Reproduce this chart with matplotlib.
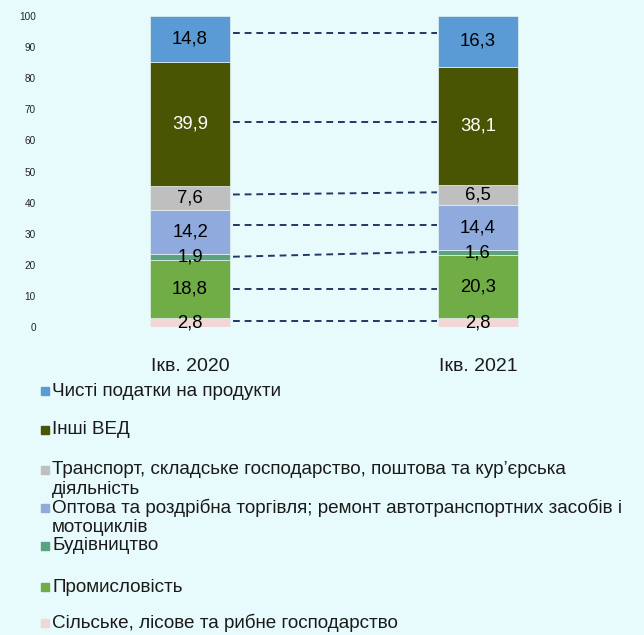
import matplotlib
matplotlib.use("Agg")
import matplotlib.pyplot as plt
from matplotlib.patches import Rectangle

plt.rcParams['font.family'] = ['Liberation Sans', 'DejaVu Sans']

# ---- data ----
periods = ["Ікв. 2020", "Ікв. 2021"]
sectors = [
    "Сільське, лісове та рибне господарство",
    "Промисловість",
    "Будівництво",
    "Оптова та роздрібна торгівля; ремонт автотранспортних засобів і\nмотоциклів",
    "Транспорт, складське господарство, поштова та кур’єрська\nдіяльність",
    "Інші ВЕД",
    "Чисті податки на продукти",
]
values_2020 = [2.8, 18.8, 1.9, 14.2, 7.6, 39.9, 14.8]
values_2021 = [2.8, 20.3, 1.6, 14.4, 6.5, 38.1, 16.3]
# levels of the dashed connector lines
line_levels_2020 = [2.0, 12.2, 22.6, 32.8, 42.6, 65.8, 94.5]
line_levels_2021 = [2.0, 12.2, 24.2, 32.8, 43.3, 65.8, 94.5]
y_ticks = [0, 10, 20, 30, 40, 50, 60, 70, 80, 90, 100]

colors = ["#F2D7D7", "#70AD47", "#5BA37E", "#8FAADC", "#BFBFBF", "#4A5504", "#5B9BD5"]
label_colors = ["black", "black", "black", "black", "black", "white", "black"]
bg = "#E8FBFC"

W, H = 644, 635
fig = plt.figure(figsize=(W / 100, H / 100), dpi=100, facecolor=bg)

def fx(px):
    return px / W

def fy(py):
    return 1 - py / H

# axes: y=0 at 327px, y=100 at 16px; x: bar centers at 190 and 478px
ax_left, ax_right = 40, 628
ax = fig.add_axes([fx(ax_left), fy(327), (ax_right - ax_left) / W, (327 - 16) / H])
ax.set_facecolor(bg)
scale = 478 - 190
ax.set_xlim((ax_left - 190) / scale, (ax_right - 190) / scale)
ax.set_ylim(0, 100)

bar_w = 80 / scale
series = [values_2020, values_2021]
for xi, vals in enumerate(series):
    bottom = 0
    for k, v in enumerate(vals):
        ax.bar(xi, v, bottom=bottom, width=bar_w, color=colors[k],
               edgecolor="#E6F2F2", linewidth=0.5, zorder=2)
        ax.text(xi, bottom + v / 2, f"{v:.1f}".replace(".", ","),
                ha="center", va="center", fontsize=13.3, color=label_colors[k], zorder=4)
        bottom += v

# dashed connector lines
x0 = 0 + bar_w / 2 + 3 / scale
x1 = 1 - bar_w / 2 - 1 / scale
for a, b in zip(line_levels_2020, line_levels_2021):
    ax.plot([x0, x1], [a, b], color="#203864", lw=1.4,
            linestyle=(0, (3.5, 2.5)), zorder=3)

for s in ax.spines.values():
    s.set_visible(False)
ax.set_yticks(y_ticks)
ax.set_yticklabels([str(t) for t in y_ticks], fontsize=7.2, color="#222222")
ax.tick_params(axis="y", length=0, pad=3)
ax.set_xticks([0, 1])
ax.set_xticklabels(periods, fontsize=14, color="#1a1a1a")
ax.tick_params(axis="x", length=0, pad=22)

# legend (manual, top to bottom)
legend_order = list(range(len(sectors)))[::-1]
item_y = [391, 430, 470, 508, 546, 587, 623]
for yy, k in zip(item_y, legend_order):
    fig.patches.append(Rectangle((fx(41), fy(yy + 4)), 8 / W, 8 / H,
                                 transform=fig.transFigure, color=colors[k]))
    lines = sectors[k].split("\n")
    for j, ln in enumerate(lines):
        fig.text(fx(52), fy(yy + 20 * j), ln, ha="left", va="center",
                 fontsize=13.6, color="#1a1a1a")

fig.savefig("out.png", dpi=100, facecolor=bg)
